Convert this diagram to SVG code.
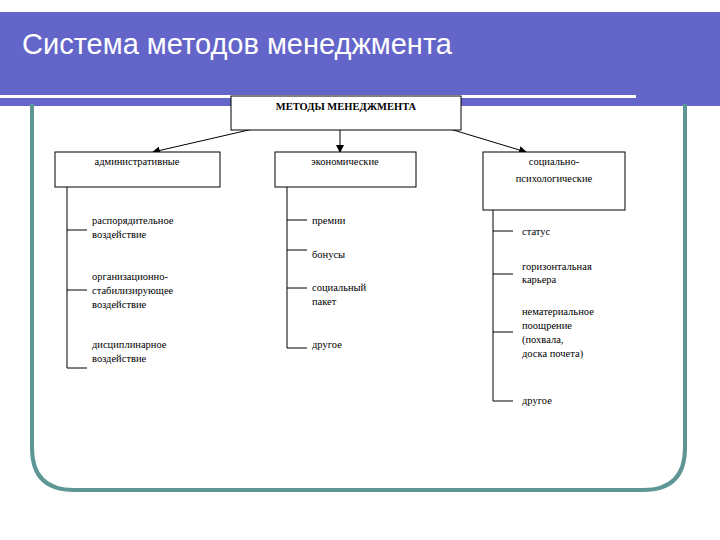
<svg xmlns="http://www.w3.org/2000/svg" width="720" height="540" viewBox="0 0 720 540">
<style>
.bx{fill:#fff;stroke:#000;stroke-width:1}
.ln{stroke:#000;stroke-width:1;fill:none}
.t{font-family:'Liberation Serif','Times New Roman',serif;font-size:10.5px;fill:#000}
.h{font-family:'Liberation Serif','Times New Roman',serif;font-size:10.5px;font-weight:bold;fill:#000}
</style>
<defs><marker id="a" markerWidth="8" markerHeight="8" refX="7" refY="4" orient="auto" markerUnits="userSpaceOnUse"><path d="M0,0L8,4L0,8z" fill="#000"/></marker></defs>
<rect width="720" height="540" fill="#fff"/>
<rect x="0" y="12" width="720" height="94" fill="#6366c8"/>
<rect x="0" y="95" width="636" height="3" fill="#fff"/>
<path d="M32,104V448Q32,490 74,490H643Q685,490 685,448V104" fill="none" stroke="#5e9696" stroke-width="4"/>
<text x="22" y="54" font-family="Liberation Sans,sans-serif" font-size="29" fill="#fff">Система методов менеджмента</text>
<g id="connectors">
<line class="ln" x1="253" y1="129" x2="153" y2="152" marker-end="url(#a)"/>
<line class="ln" x1="340" y1="130" x2="340" y2="152" marker-end="url(#a)"/>
<line class="ln" x1="450" y1="129" x2="526" y2="152" marker-end="url(#a)"/>
<path class="ln" d="M67,187V368H87M67,230H87M67,290H87"/>
<path class="ln" d="M287,187V348H307M287,220H307M287,250H307M287,288H307"/>
<path class="ln" d="M493,210V401H513M493,231H513M493,274H513M493,332H513"/>
</g>
<g id="root"><rect class="bx" x="231" y="96" width="230" height="34"/><text class="h" x="346" y="110" text-anchor="middle">МЕТОДЫ МЕНЕДЖМЕНТА</text></g>
<g id="admin"><rect class="bx" x="55" y="152" width="165" height="35"/><text class="t" x="137" y="165" text-anchor="middle">административные</text></g>
<g id="econ"><rect class="bx" x="275" y="152" width="141" height="35"/><text class="t" x="345" y="165" text-anchor="middle">экономические</text></g>
<g id="soc"><rect class="bx" x="483" y="152" width="142" height="58"/><text class="t" x="554" y="165" text-anchor="middle">социально-</text><text class="t" x="554" y="182" text-anchor="middle">психологические</text></g>
<g id="a1"><text class="t" x="92" y="224">распорядительное</text><text class="t" x="92" y="238">воздействие</text></g>
<g id="a2"><text class="t" x="92" y="280">организационно-</text><text class="t" x="92" y="294">стабилизирующее</text><text class="t" x="92" y="308">воздействие</text></g>
<g id="a3"><text class="t" x="92" y="348">дисциплинарное</text><text class="t" x="92" y="362">воздействие</text></g>
<g id="e1"><text class="t" x="312" y="224">премии</text></g>
<g id="e2"><text class="t" x="312" y="258">бонусы</text></g>
<g id="e3"><text class="t" x="312" y="291">социальный</text><text class="t" x="312" y="305">пакет</text></g>
<g id="e4"><text class="t" x="312" y="348">другое</text></g>
<g id="s1"><text class="t" x="522" y="235">статус</text></g>
<g id="s2"><text class="t" x="522" y="270">горизонтальная</text><text class="t" x="522" y="283">карьера</text></g>
<g id="s3"><text class="t" x="522" y="315">нематериальное</text><text class="t" x="522" y="329">поощрение</text><text class="t" x="522" y="343">(похвала,</text><text class="t" x="522" y="357">доска почета)</text></g>
<g id="s4"><text class="t" x="522" y="404">другое</text></g>
</svg>
